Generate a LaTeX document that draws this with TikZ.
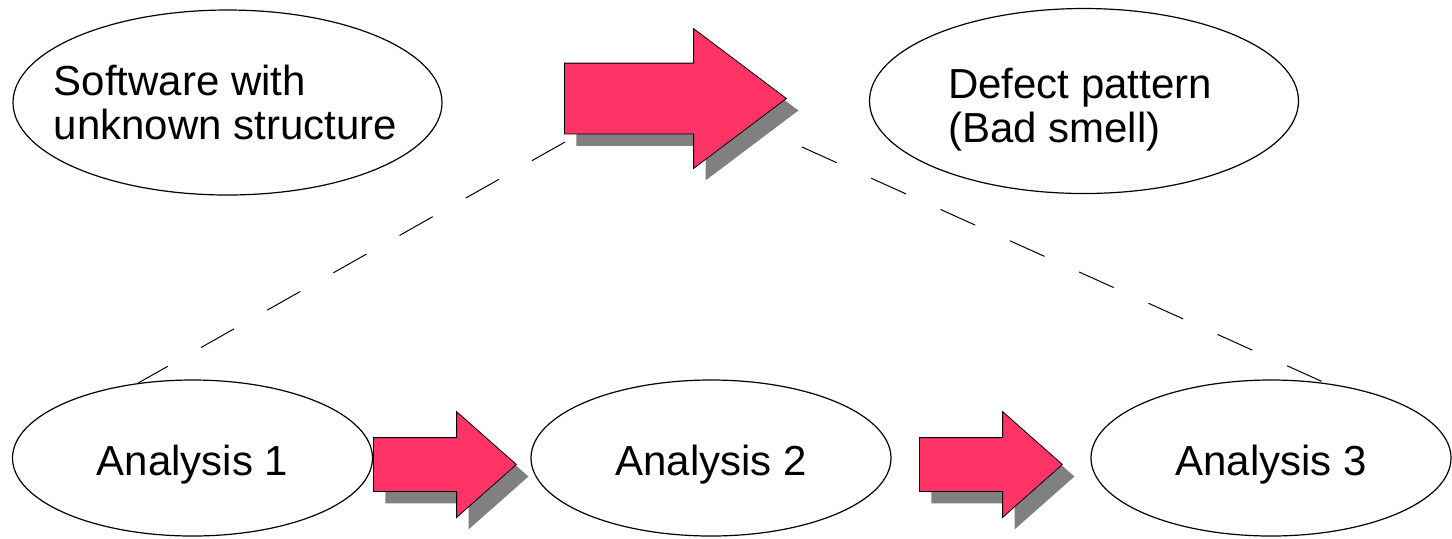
\documentclass[tikz,border=0pt]{standalone}
\usepackage{fontspec}
\setmainfont{Liberation Sans}
\usepackage{tikz}
\usetikzlibrary{shapes.geometric}
\usetikzlibrary{shapes.arrows}
\usetikzlibrary{shadows}
\definecolor{arrowred}{HTML}{FF3366}
\definecolor{shadowgray}{HTML}{808080}

\begin{document}
\begin{tikzpicture}[x=0.5pt,y=-0.5pt,
    phase/.style={ellipse,draw,line width=0.6pt,inner sep=0pt},
    bigphase/.style={phase,minimum width=214.5pt,minimum height=92.5pt},
    smallphase/.style={phase,minimum width=180pt,minimum height=78pt},
    bodytext/.style={font=\fontsize{21}{22}\selectfont,align=left,inner sep=0pt},
    fatarrow/.style={single arrow,draw,line width=0.4pt,fill=arrowred,inner xsep=0pt,anchor=tail,
        drop shadow={shadow xshift=6pt,shadow yshift=-6pt,fill=shadowgray,opacity=1}},
    bigfatarrow/.style={fatarrow,minimum height=111pt,inner ysep=17.5pt,
        single arrow head extend=17.25pt,single arrow tip angle=74},
    smallfatarrow/.style={fatarrow,minimum height=71.5pt,inner ysep=13.25pt,
        single arrow head extend=13pt,single arrow tip angle=83},
    zoomline/.style={line width=0.5pt,dash pattern=on 19pt off 19pt}]
    \useasboundingbox (0,0) rectangle (1452,538);

    \node [bigphase] (sw) at (227.5,102.5) {};
    \node [bodytext] (swtext) at ([xshift=-1pt]sw.center) {Software with\\unknown structure};
    \node [bigphase] (dp) at (1084,101) {};
    \node [bodytext] (dptext) at ([xshift=-2pt,yshift=-4.5pt]dp.center) {Defect pattern\\(Bad smell)};

    \node [smallphase] (an1) at (192.5,458) {};
    \node [smallphase] (an2) at (711,458) {};
    \node [smallphase] (an3) at (1271,458) {};
    \node [bodytext,anchor=base] (an1text) at ([yshift=-8.5pt]an1.center) {Analysis 1};
    \node [bodytext,anchor=base] (an2text) at ([yshift=-8.5pt]an2.center) {Analysis 2};
    \node [bodytext,anchor=base] (an3text) at ([yshift=-8.5pt]an3.center) {Analysis 3};

    \node [bigfatarrow] (find) at (564,98.5) {};
    \node [smallfatarrow] (step12) at (373,464.5) {};
    \node [smallfatarrow] (step23) at (919,464.5) {};

    \coordinate (zoomL) at (565,142);
    \coordinate (zoomR) at (802,147);
    \draw [zoomline] (zoomL) -- (an1.126);
    \draw [zoomline] (zoomR) -- (an3.54);
\end{tikzpicture}
\end{document}
